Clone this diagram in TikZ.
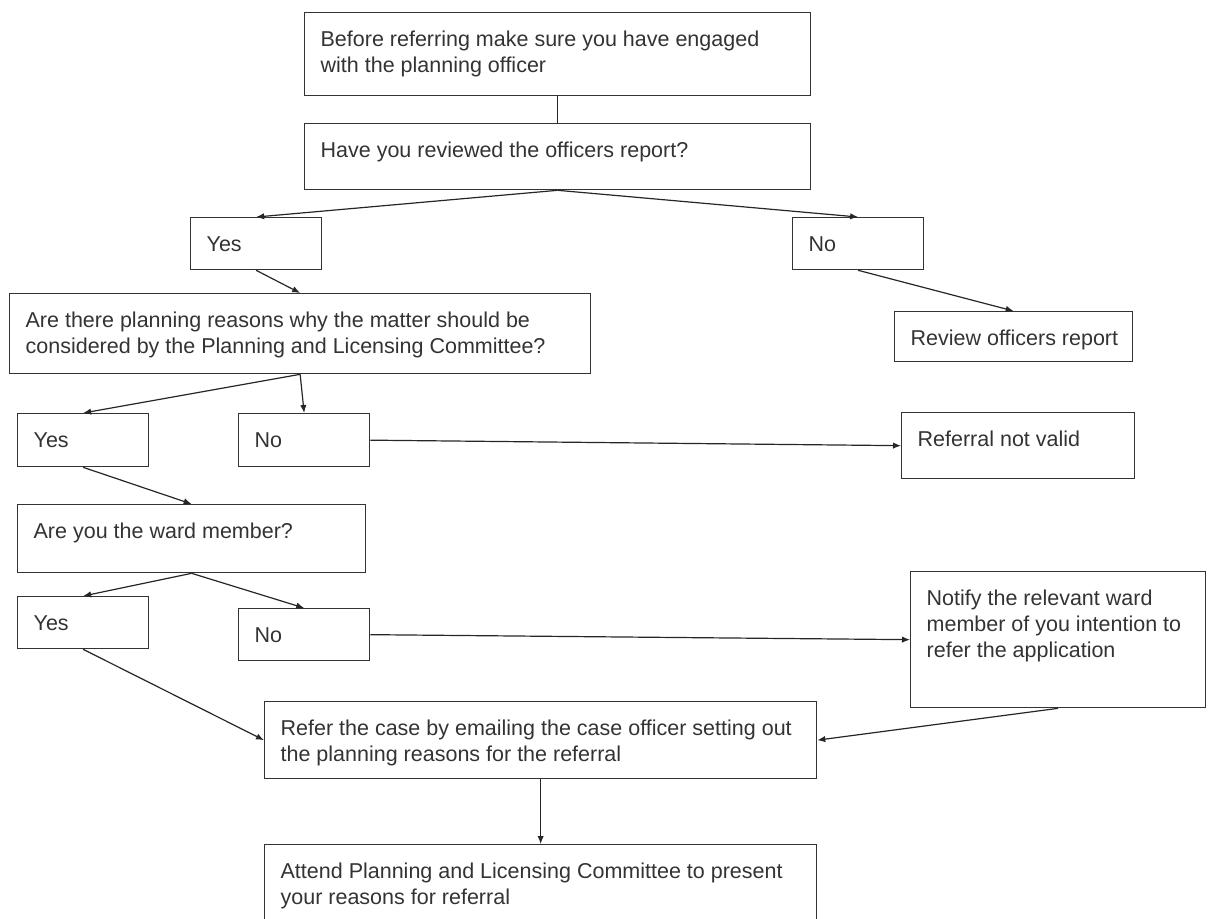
\documentclass[tikz,border=0pt]{standalone}
\usepackage{fontspec}
\setmainfont{Liberation Sans}
\usetikzlibrary{arrows.meta}
\newcommand{\boxtext}[3]{\parbox[c][#2][t]{#1}{\raggedright\leftskip=8pt\rule{0pt}{16.8pt}#3}}

\begin{document}
\begin{tikzpicture}[x=0.5pt, y=-0.5pt,
  stepbox/.style={draw=black!80, line width=0.65pt, inner sep=0pt, anchor=north west,
    text=black!80, font=\fontsize{10.75}{13}\selectfont},
  link/.style={draw=black!85, line width=0.6pt, -{Latex[length=4pt,width=3.2pt]}}]
\useasboundingbox (0,0) rectangle (1210,918);

\node[stepbox] (engage) at (304,12) {\boxtext{253pt}{41.5pt}{Before referring make sure you have engaged\\with the planning officer}};
\node[stepbox] (reviewed) at (304,123) {\boxtext{253pt}{33pt}{Have you reviewed the officers report?}};
\node[stepbox] (yesreport) at (190,217) {\boxtext{65.5pt}{26pt}{Yes}};
\node[stepbox] (noreport) at (792,217) {\boxtext{65.5pt}{26pt}{No}};
\node[stepbox] (readreport) at (894,311) {\boxtext{119pt}{25pt}{Review officers report}};
\node[stepbox] (reasons) at (9,293) {\boxtext{290.5pt}{40pt}{Are there planning reasons why the matter should be\\considered by the Planning and Licensing Committee?}};
\node[stepbox] (yesreasons) at (17,413) {\boxtext{65.5pt}{26.5pt}{Yes}};
\node[stepbox] (noreasons) at (238,413) {\boxtext{65.5pt}{26.5pt}{No}};
\node[stepbox] (invalid) at (901,412) {\boxtext{116.5pt}{33pt}{Referral not valid}};
\node[stepbox] (ward) at (17,504) {\boxtext{174pt}{34pt}{Are you the ward member?}};
\node[stepbox] (yesward) at (17,596) {\boxtext{65.5pt}{26pt}{Yes}};
\node[stepbox] (noward) at (238,608) {\boxtext{65.5pt}{26pt}{No}};
\node[stepbox] (notify) at (910,571) {\boxtext{147.5pt}{68pt}{Notify the relevant ward\\member of you intention to\\refer the application}};
\node[stepbox] (refer) at (264,701) {\boxtext{276pt}{38.5pt}{Refer the case by emailing the case officer setting out\\the planning reasons for the referral}};
\node[stepbox] (attend) at (264,844) {\boxtext{276pt}{38.5pt}{Attend Planning and Licensing Committee to present\\your reasons for referral}};

\draw[draw=black!85, line width=0.6pt] (engage.south) -- (reviewed.north);
\draw[link] (reviewed.south) -- (yesreport.north);
\draw[link] (reviewed.south) -- (noreport.north);
\draw[link] (noreport.south) -- (readreport.north);
\draw[link] (yesreport.south) -- (reasons.north);
\draw[link] (reasons.south) -- (yesreasons.north);
\draw[link] (reasons.south) -- (noreasons.north);
\draw[link] (noreasons.east) -- (invalid.west);
\draw[link] (yesreasons.south) -- (ward.north);
\draw[link] (ward.south) -- (yesward.north);
\draw[link] (ward.south) -- (noward.north);
\draw[link] (noward.east) -- (notify.west);
\draw[link] (notify.south) -- (refer.east);
\draw[link] (yesward.south) -- (refer.west);
\draw[link] (refer.south) -- (attend.north);

\end{tikzpicture}
\end{document}
